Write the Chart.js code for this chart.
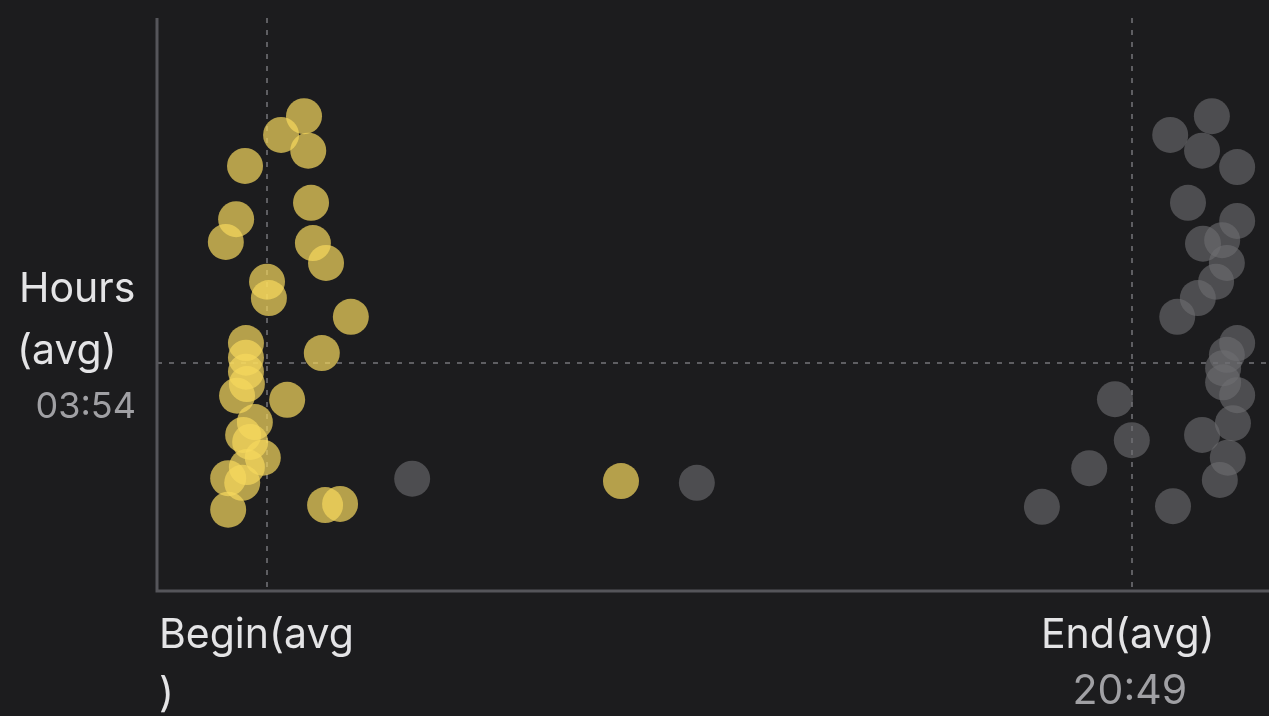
<!DOCTYPE html>
<html>
<head>
<meta charset="utf-8">
<script src="https://cdn.jsdelivr.net/npm/chart.js@4/dist/chart.umd.min.js"></script>
<style>
  html, body { margin: 0; padding: 0; background: #1c1c1e; }
  #wrap { position: relative; width: 1269px; height: 716px; }
</style>
</head>
<body>
<div id="wrap"><canvas id="chart"></canvas></div>
<script>
// hour of day each session started, and its length in hours
const beginHour = [3.14, 2.65, 3.23, 1.88, 3.29, 1.69, 1.47, 3.33, 3.61, 2.35, 2.39, 4.14, 3.52, 1.90, 1.90,
                   1.90, 1.92, 1.71, 2.78, 2.09, 1.84, 1.99, 2.26, 1.92, 1.52, 1.82, 1.52, 3.59, 3.91, 9.91];
const beginLength = [8.12, 7.80, 7.53, 7.27, 6.64, 6.36, 5.97, 5.95, 5.61, 5.29, 5.01, 4.69, 4.07, 4.24, 3.99,
                     3.75, 3.54, 3.34, 3.27, 2.89, 2.67, 2.55, 2.28, 2.12, 1.93, 1.85, 1.39, 1.47, 1.49, 1.88];

// hour of day each session ended, and its length in hours
const endHour = [22.53, 21.64, 22.32, 23.07, 22.02, 23.07, 22.34, 22.75, 22.85, 22.62, 22.23, 21.79, 23.07, 22.85,
                 22.77, 22.77, 23.07, 20.46, 22.98, 22.32, 20.82, 22.87, 19.91, 22.70, 18.90, 21.70, 5.45, 11.53];
const endLength = [8.12, 7.80, 7.53, 7.25, 6.64, 6.33, 5.94, 6.00, 5.61, 5.29, 5.01, 4.69, 4.24, 4.04,
                   3.81, 3.57, 3.35, 3.28, 2.87, 2.67, 2.58, 2.28, 2.10, 1.90, 1.44, 1.45, 1.92, 1.85];

const BEGIN_AVG = 2.35;
const END_AVG = 20.82;
const HOURS_AVG = 3.9;
const labels = { hours: ['Hours', '(avg)'], hoursValue: '03:54', begin: ['Begin(avg', ')'], end: 'End(avg)', endValue: '20:49' };

function toPoints(xs, ys) {
    return xs.map(function (x, i) { return { x: x, y: ys[i] }; });
}

const FONT = '400 41px Inter, "Noto Sans", sans-serif';

const overlay = {
    id: 'overlay',
    beforeDatasetsDraw(chart) {
        const { ctx, chartArea: a, scales: { x, y } } = chart;
        ctx.save();
        // avg reference lines
        ctx.strokeStyle = '#5e5e62';
        ctx.lineWidth = 2;
        ctx.setLineDash([5, 7]);
        ctx.beginPath();
        const bx = Math.round(x.getPixelForValue(BEGIN_AVG));
        const ex = Math.round(x.getPixelForValue(END_AVG));
        const hy = Math.round(y.getPixelForValue(HOURS_AVG));
        ctx.moveTo(bx, a.top); ctx.lineTo(bx, a.bottom);
        ctx.moveTo(ex, a.top); ctx.lineTo(ex, a.bottom);
        ctx.moveTo(a.left, hy); ctx.lineTo(a.right, hy);
        ctx.stroke();
        // axes
        ctx.setLineDash([]);
        ctx.strokeStyle = '#55555a';
        ctx.lineWidth = 3;
        ctx.beginPath();
        ctx.moveTo(a.left, a.top);
        ctx.lineTo(a.left, a.bottom);
        ctx.lineTo(a.right, a.bottom);
        ctx.stroke();
        ctx.restore();
    },
    afterDraw(chart) {
        const { ctx, chartArea: a, scales: { x, y } } = chart;
        const hy = y.getPixelForValue(HOURS_AVG);
        const ex = x.getPixelForValue(END_AVG);
        ctx.save();
        ctx.font = FONT;
        ctx.textBaseline = 'middle';
        ctx.fillStyle = '#e4e4e6';
        ctx.textAlign = 'left';
        ctx.fillText(labels.hours[0], 19, hy - 73);
        ctx.fillText(labels.hours[1], 17, hy - 11);
        ctx.fillText(labels.begin[0], a.left + 2, a.bottom + 45);
        ctx.fillText(labels.begin[1], a.left + 2, a.bottom + 104);
        ctx.textAlign = 'center';
        ctx.fillText(labels.end, ex - 4, a.bottom + 45);
        ctx.fillStyle = '#a0a0a4';
        ctx.fillText(labels.endValue, ex - 2, a.bottom + 101);
        ctx.font = '400 36px Inter, "Noto Sans", sans-serif';
        ctx.textAlign = 'right';
        ctx.fillText(labels.hoursValue, 136, hy + 44);
        ctx.restore();
    }
};

new Chart(document.getElementById('chart'), {
    type: 'scatter',
    data: {
        datasets: [{
            label: 'Begin',
            data: toPoints(beginHour, beginLength),
            backgroundColor: 'rgba(246, 217, 94, 0.7)',
            borderWidth: 0,
            pointRadius: 18,
            pointHoverRadius: 18
        }, {
            label: 'End',
            data: toPoints(endHour, endLength),
            backgroundColor: 'rgba(110, 110, 114, 0.6)',
            borderWidth: 0,
            pointRadius: 18,
            pointHoverRadius: 18
        }]
    },
    options: {
        responsive: true,
        maintainAspectRatio: false,
        animation: false,
        events: [],
        layout: { autoPadding: false, padding: { left: 157, top: 18, right: 0, bottom: 125 } },
        plugins: { legend: { display: false }, tooltip: { enabled: false } },
        scales: {
            x: { type: 'linear', min: 0, max: 23.75, display: false },
            y: { type: 'linear', min: 0, max: 9.8, display: false }
        }
    },
    plugins: [overlay]
});
</script>
</body>
</html>
